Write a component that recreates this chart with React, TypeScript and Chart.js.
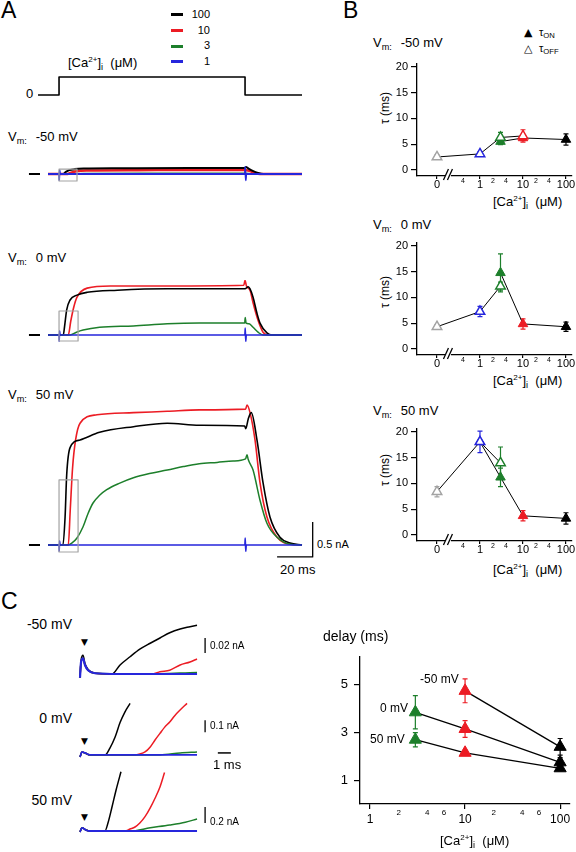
import React, { useEffect, useRef } from "react";
import { Chart, registerables } from "chart.js";
Chart.register(...registerables);

const FONT = "'Liberation Sans', Arial, Helvetica, sans-serif";
Chart.defaults.font.family = FONT;
Chart.defaults.color = "#000";

const BLACK = "#000000";
const RED = "#ec1c24";
const GREEN = "#1d7f2b";
const BLUE = "#2626dc";
const GRAY = "#a3a3a3";

type Pt = [number, number];

// ---------------- Panel A (time in ms, current in nA) ----------------
const caStep: Pt[] = [[-5.6, 0], [6.2, 0], [6.2, 1], [110.7, 1], [110.7, 0], [142.7, 0]];
const baselineMarkA: Pt[] = [[-10.7, 0], [-4.5, 0]];

const blueA: Pt[] = [[0, 0], [6.2, 0], [6.3, -0.09], [6.5, 0.06], [6.8, 0], [110.6, 0], [110.8, 0.1], [111.1, -0.09], [111.4, 0], [142.7, 0]];

const blackA_m50: Pt[] = [[0, 0], [8.4, 0], [10, 0.03], [12, 0.055], [15, 0.07], [20, 0.078], [40, 0.082], [80, 0.085], [110.6, 0.085], [111.2, 0.1], [112.5, 0.08], [115, 0.045], [118, 0.015], [121, 0], [142.7, 0]];
const redA_m50: Pt[] = [[0, 0], [11, 0], [13, 0.02], [16, 0.04], [22, 0.05], [50, 0.055], [110.6, 0.058], [112.5, 0.05], [115, 0.025], [118, 0.005], [120, 0], [142.7, 0]];
const greenA_m50: Pt[] = [[0, 0], [12, 0], [20, 0.006], [60, 0.01], [110.6, 0.012], [114, 0.004], [117, 0], [142.7, 0]];

const blackA_0: Pt[] = [[0, 0], [8.6, 0], [9.3, 0.12], [10.5, 0.36], [12.4, 0.5], [16.3, 0.57], [22, 0.61], [39, 0.64], [67, 0.66], [110.7, 0.66], [112.5, 0.69], [113.5, 0.66], [115.2, 0.54], [117.4, 0.31], [119.1, 0.17], [123, 0.03], [126, 0], [142.7, 0]];
const redA_0: Pt[] = [[0, 0], [11.4, 0], [12.8, 0.2], [14.5, 0.4], [16.3, 0.54], [22, 0.67], [35, 0.7], [67, 0.7], [110, 0.71], [110.7, 0.78], [111.5, 0.7], [113.5, 0.64], [115.2, 0.46], [118, 0.21], [120.8, 0.04], [124, 0], [142.7, 0]];
const greenA_0: Pt[] = [[0, 0], [12.4, 0], [16, 0.04], [19.7, 0.07], [29, 0.11], [48, 0.13], [67, 0.16], [85, 0.17], [110.5, 0.17], [110.8, 0.25], [111.3, 0.17], [113, 0.16], [115.2, 0.11], [118, 0.04], [120.8, 0], [142.7, 0]];

const blackA_50: Pt[] = [[0, 0], [8.4, 0], [9.6, 0.4], [10.5, 1.0], [12.4, 1.39], [18, 1.5], [29, 1.61], [48, 1.69], [67, 1.74], [85, 1.71], [110.5, 1.7], [111.1, 1.66], [112.5, 1.8], [114.2, 1.89], [117.4, 1.5], [120.8, 0.89], [124.7, 0.4], [130.3, 0.11], [136, 0.03], [142.7, 0]];
const redA_50: Pt[] = [[0, 0], [11.4, 0], [12.5, 0.5], [13.8, 1.1], [15.5, 1.5], [18, 1.74], [27.5, 1.86], [48, 1.89], [67, 1.91], [85, 1.93], [111, 1.94], [111.8, 2.0], [113.5, 1.89], [116.3, 1.5], [119.1, 0.89], [123, 0.4], [128.7, 0.11], [136, 0.01], [142.7, 0]];
const greenA_50: Pt[] = [[0, 0], [11.2, 0], [13.5, 0.03], [16.3, 0.1], [19.7, 0.26], [22.5, 0.45], [25.3, 0.6], [29, 0.71], [33, 0.79], [40, 0.88], [48, 0.96], [57, 1.02], [67, 1.07], [76, 1.12], [85, 1.16], [95, 1.18], [104, 1.2], [111, 1.23], [111.8, 1.29], [112.5, 1.22], [115.2, 1.07], [119.1, 0.64], [123, 0.31], [128.7, 0.11], [136, 0.01], [142.7, 0]];

// zoom windows shown in C: [t0, t1, i0, i1]
const boxA_m50 = [6.2, 16.3, -0.1, 0.071];
const boxA_0 = [6.2, 16.9, -0.086, 0.343];
const boxA_50 = [6.2, 16.9, -0.1, 0.929];
// scale bar: 20 ms, 0.5 nA
const scaleBarA = { t0: 128.7, i0: -0.17, dt: 20, di: 0.5 };

// ---------------- Panel B (tau, ms) ----------------
const ZERO_POS = 0.1;
const bTickValues = [0.1, 0.4, 1, 2, 4, 10, 20, 40, 100];
const bTickLabels = ["0", "4", "1", "2", "4", "10", "2", "4", "100"];
const bMajor = [0.1, 1, 10, 100];
const bTauTicks = [0, 5, 10, 15, 20];

const tauOffConc_m50 = [0, 1, 3, 10];
const tauOff_m50 = [2.5, 3.1, 6.3, 6.6];
const tauOffErr_m50 = [0.4, 0.4, 1.0, 1.2];
const tauOnConc_m50 = [3, 10, 100];
const tauOn_m50 = [5.5, 6.2, 5.9];
const tauOnErr_m50 = [0.6, 0.5, 1.1];

const tauOffConc_0 = [0, 1, 3];
const tauOff_0 = [4.3, 7.25, 12.2];
const tauOffErr_0 = [0.4, 1.0, 0.8];
const tauOnConc_0 = [3, 10, 100];
const tauOn_0 = [14.8, 4.85, 4.3];
const tauOnErr_0 = [3.7, 1.0, 0.9];

const tauOffConc_50 = [0, 1, 3];
const tauOff_50 = [8.4, 18.1, 14.0];
const tauOffErr_50 = [1.0, 2.1, 3.1];
const tauOnConc_50 = [1, 3, 10, 100];
const tauOn_50 = [18.1, 11.2, 3.7, 3.2];
const tauOnErr_50 = [0, 1.8, 1.0, 1.1];

// ---------------- Panel C traces (time in ms, current in nA) ----------------
const blackC_m50: Pt[] = [[0, -0.005], [0.08, 0.018], [0.23, 0.025], [0.38, 0.014], [0.62, 0.006], [1.15, 0.001], [2.46, 0], [3.08, 0.012], [3.85, 0.023], [4.6, 0.033], [5.4, 0.041], [6.15, 0.048], [6.9, 0.055], [7.7, 0.06], [8.46, 0.063], [9, 0.065]];
const redC_m50: Pt[] = [[0, -0.005], [0.08, 0.016], [0.23, 0.021], [0.38, 0.012], [0.62, 0.005], [1.15, 0.001], [2.5, 0], [5.6, 0], [6.15, 0.003], [6.9, 0.005], [7.7, 0.012], [8.46, 0.016], [9, 0.02]];
const greenC_m50: Pt[] = [[0, -0.005], [0.08, 0.016], [0.23, 0.021], [0.38, 0.012], [0.62, 0.005], [1.15, 0.001], [5, 0], [9, 0.002]];
const blueC_m50: Pt[] = [[0, -0.005], [0.08, 0.016], [0.23, 0.021], [0.38, 0.012], [0.62, 0.005], [1.15, 0.001], [3, 0], [6, 0], [9, 0]];

const blackC_0: Pt[] = [[0, -0.017], [0.15, 0.025], [0.38, 0.017], [0.77, 0], [1.92, 0], [2.3, 0.058], [2.7, 0.15], [3.08, 0.27], [3.46, 0.36], [3.85, 0.43]];
const redC_0: Pt[] = [[0, -0.017], [0.15, 0.025], [0.38, 0.017], [0.77, 0], [4.2, 0], [4.6, 0.008], [5.0, 0.025], [5.4, 0.067], [5.77, 0.125], [6.15, 0.18], [6.5, 0.23], [6.9, 0.275], [7.3, 0.33], [7.7, 0.375], [8.23, 0.43]];
const greenC_0: Pt[] = [[0, -0.017], [0.15, 0.025], [0.38, 0.017], [0.77, 0], [6.15, 0], [7.7, 0.017], [9, 0.025]];
const blueC_0: Pt[] = [[0, -0.017], [0.15, 0.025], [0.38, 0.017], [0.77, 0], [9, 0]];

const blackC_50: Pt[] = [[0, -0.0125], [0.15, 0.04], [0.46, 0.012], [0.77, 0], [1.92, 0], [2.15, 0.1], [2.46, 0.3], [2.77, 0.51], [3.15, 0.74]];
const redC_50: Pt[] = [[0, -0.0125], [0.15, 0.04], [0.46, 0.012], [0.77, 0], [3.46, 0], [3.85, 0.025], [4.23, 0.05], [4.6, 0.1], [5.0, 0.18], [5.4, 0.29], [5.77, 0.41], [6.15, 0.55], [6.5, 0.73]];
const greenC_50: Pt[] = [[0, -0.0125], [0.15, 0.04], [0.46, 0.012], [0.77, 0], [3.85, 0], [5.4, 0.04], [6.9, 0.075], [8.1, 0.11], [9, 0.15]];
const blueC_50: Pt[] = [[0, -0.0125], [0.15, 0.04], [0.46, 0.012], [0.77, 0], [9, 0]];

// scale bars in C: vertical at t, from i0 with height di; time bar 1 ms
const scaleC_m50 = { t: 9.62, i0: 0.028, di: 0.02 };
const scaleC_0 = { t: 9.62, i0: 0.19, di: 0.1 };
const scaleC_50 = { t: 9.62, i0: 0.1, di: 0.2 };
const timeBarC = { t0: 10.6, dt: 1, i: 0.017 };

// ---------------- Panel C right (delay, ms) ----------------
const cTickValues = [1, 2, 4, 6, 10, 20, 40, 60, 100];
const cTickLabels = ["1", "2", "4", "6", "10", "2", "4", "6", "100"];
const cMajor = [1, 10, 100];
const delayTicks = [1, 3, 5];

const delayConc_m50 = [10, 100];
const delay_m50 = [4.75, 2.4];
const delayErr_m50 = [0.5, 0.35];
const delayConc_0 = [3, 10, 100];
const delay_0 = [3.85, 3.15, 1.75];
const delayErr_0 = [0.7, 0.35, 0.2];
const delayConc_50 = [3, 10, 100];
const delay_50 = [2.7, 2.15, 1.5];
const delayErr_50 = [0.3, 0.1, 0.1];

// ---------------- helpers ----------------
const colorFor = (c: number) => (c === 0 ? GRAY : c === 1 ? BLUE : c === 3 ? GREEN : c === 10 ? RED : BLACK);
const toXY = (arr: Pt[]) => arr.map(([x, y]) => ({ x, y }));

function lineDs(arr: Pt[], color: string, width = 1.5, smooth = false): any {
  const ds: any = {
    data: toXY(arr),
    borderColor: color,
    borderWidth: width,
    pointRadius: 0,
    tension: 0,
    fill: false,
    clip: false,
    borderJoinStyle: "round",
  };
  if (smooth) ds.cubicInterpolationMode = "monotone";
  return ds;
}
const traceDs = (arr: Pt[], color: string, width = 1.5) => lineDs(arr, color, width, true);

const boxPts = (b: number[]): Pt[] => [[b[0], b[2]], [b[1], b[2]], [b[1], b[3]], [b[0], b[3]], [b[0], b[2]]];

function traceConfig(datasets: any[], xr: number[], yr: number[]): any {
  return {
    type: "line",
    data: { datasets },
    options: {
      animation: false,
      responsive: false,
      devicePixelRatio: 1,
      events: [],
      layout: { padding: 0 },
      plugins: { legend: { display: false }, tooltip: { enabled: false } },
      scales: {
        x: { type: "linear", min: xr[0], max: xr[1], display: false },
        y: { type: "linear", min: yr[0], max: yr[1], display: false },
      },
    },
  };
}

const errorBarPlugin: any = {
  id: "errbars",
  beforeDatasetsDraw(chart: any) {
    const ctx = chart.ctx;
    const ys = chart.scales.y;
    chart.data.datasets.forEach((ds: any, i: number) => {
      if (!ds.err) return;
      const meta = chart.getDatasetMeta(i);
      meta.data.forEach((pt: any, j: number) => {
        const e = ds.err[j];
        if (!e) return;
        const v = ds.data[j].y;
        const yT = ys.getPixelForValue(v + e);
        const yB = ys.getPixelForValue(v - e);
        ctx.save();
        ctx.strokeStyle = ds.errColor[j];
        ctx.lineWidth = 1.2;
        ctx.beginPath();
        ctx.moveTo(pt.x, yT);
        ctx.lineTo(pt.x, yB);
        ctx.moveTo(pt.x - 2.5, yT);
        ctx.lineTo(pt.x + 2.5, yT);
        ctx.moveTo(pt.x - 2.5, yB);
        ctx.lineTo(pt.x + 2.5, yB);
        ctx.stroke();
        ctx.restore();
      });
    });
  },
};

function makeBreakPlugin(at: number): any {
  return {
    id: "axisBreak",
    afterDraw(chart: any) {
      const ctx = chart.ctx;
      const x = chart.scales.x.getPixelForValue(at);
      const y = chart.chartArea.bottom;
      ctx.save();
      ctx.fillStyle = "#fff";
      ctx.fillRect(x - 3, y - 2, 6, 4);
      ctx.strokeStyle = "#000";
      ctx.lineWidth = 1.3;
      for (const dx of [-2, 2]) {
        ctx.beginPath();
        ctx.moveTo(x + dx - 2.5, y + 4);
        ctx.lineTo(x + dx + 2.5, y - 7);
        ctx.stroke();
      }
      ctx.restore();
    },
  };
}

function markerDs(conc: number[], vals: number[], err: number[], open: boolean, radius: number, posOf: (c: number) => number): any {
  const cols = conc.map(colorFor);
  return {
    data: conc.map((c, i) => ({ x: posOf(c), y: vals[i] })),
    err,
    errColor: cols,
    borderColor: BLACK,
    borderWidth: 1,
    tension: 0,
    fill: false,
    clip: false,
    pointStyle: "triangle",
    pointRadius: radius,
    pointBorderWidth: open ? 1.5 : 1,
    pointBorderColor: cols,
    pointBackgroundColor: open ? "#ffffff" : cols,
  };
}

function tauConfig(offC: number[], off: number[], offE: number[], onC: number[], on: number[], onE: number[]): any {
  const pos = (c: number) => (c === 0 ? ZERO_POS : c);
  return {
    type: "line",
    data: {
      datasets: [markerDs(offC, off, offE, true, 5.5, pos), markerDs(onC, on, onE, false, 5.5, pos)],
    },
    plugins: [errorBarPlugin, makeBreakPlugin(0.18)],
    options: {
      animation: false,
      responsive: false,
      devicePixelRatio: 1,
      events: [],
      layout: { padding: { top: 10, right: 10, left: 0, bottom: 0 } },
      plugins: { legend: { display: false }, tooltip: { enabled: false } },
      scales: {
        x: {
          type: "logarithmic",
          min: 0.0343,
          max: 138,
          afterBuildTicks: (s: any) => {
            s.ticks = bTickValues.map((v) => ({ value: v }));
          },
          afterFit: (s: any) => {
            s.height = 16;
          },
          ticks: {
            autoSkip: false,
            maxRotation: 0,
            minRotation: 0,
            padding: 0,
            color: "#000",
            callback: (v: any) => bTickLabels[bTickValues.indexOf(Number(v))],
            font: (ctx: any) =>
              bMajor.includes(ctx.tick && ctx.tick.value)
                ? { family: FONT, size: 11, lineHeight: 1 }
                : { family: FONT, size: 7, lineHeight: 4 / 7 },
          },
          grid: {
            drawOnChartArea: false,
            drawTicks: true,
            tickLength: 3,
            lineWidth: 1.2,
            tickColor: (ctx: any) => (bMajor.includes(ctx.tick && ctx.tick.value) ? "#000" : "rgba(0,0,0,0)"),
          },
          border: { display: true, color: "#000", width: 1.3 },
        },
        y: {
          type: "linear",
          min: -1.2,
          max: 20.6,
          afterBuildTicks: (s: any) => {
            s.ticks = bTauTicks.map((v) => ({ value: v }));
          },
          afterFit: (s: any) => {
            s.width = 25;
          },
          ticks: { padding: 3, color: "#000", font: { family: FONT, size: 11 } },
          grid: { drawOnChartArea: false, drawTicks: true, tickLength: 6, lineWidth: 1.2, tickColor: "#000" },
          border: { display: true, color: "#000", width: 1.3 },
        },
      },
    },
  };
}

function delayConfig(): any {
  const pos = (c: number) => c;
  return {
    type: "line",
    data: {
      datasets: [
        markerDs(delayConc_m50, delay_m50, delayErr_m50, false, 7, pos),
        markerDs(delayConc_0, delay_0, delayErr_0, false, 7, pos),
        markerDs(delayConc_50, delay_50, delayErr_50, false, 7, pos),
      ].map((d) => ({ ...d, borderWidth: 1.3 })),
    },
    plugins: [errorBarPlugin],
    options: {
      animation: false,
      responsive: false,
      devicePixelRatio: 1,
      events: [],
      layout: { padding: { top: 10, right: 12, left: 0, bottom: 0 } },
      plugins: { legend: { display: false }, tooltip: { enabled: false } },
      scales: {
        x: {
          type: "logarithmic",
          min: 0.785,
          max: 127,
          afterBuildTicks: (s: any) => {
            s.ticks = cTickValues.map((v) => ({ value: v }));
          },
          afterFit: (s: any) => {
            s.height = 22;
          },
          ticks: {
            autoSkip: false,
            maxRotation: 0,
            minRotation: 0,
            padding: 3,
            color: "#000",
            callback: (v: any) => cTickLabels[cTickValues.indexOf(Number(v))],
            font: (ctx: any) =>
              cMajor.includes(ctx.tick && ctx.tick.value)
                ? { family: FONT, size: 12, lineHeight: 16 / 12 }
                : { family: FONT, size: 8, lineHeight: 0.125 },
          },
          grid: {
            drawOnChartArea: false,
            drawTicks: true,
            tickLength: 5,
            lineWidth: 1.2,
            tickColor: (ctx: any) => (cMajor.includes(ctx.tick && ctx.tick.value) ? "#000" : "rgba(0,0,0,0)"),
          },
          border: { display: true, color: "#000", width: 1.3 },
        },
        y: {
          type: "linear",
          min: 0,
          max: 6.18,
          afterBuildTicks: (s: any) => {
            s.ticks = delayTicks.map((v) => ({ value: v }));
          },
          afterFit: (s: any) => {
            s.width = 30;
          },
          ticks: { padding: 6, color: "#000", font: { family: FONT, size: 13 } },
          grid: { drawOnChartArea: false, drawTicks: true, tickLength: 6, lineWidth: 1.2, tickColor: "#000" },
          border: { display: true, color: "#000", width: 1.3 },
        },
      },
    },
  };
}

// A chart x-range (ms) shared by all A charts
const A_X = [-12.92, 150];
const C_X = [-0.385, 11.92];

function ChartBox({ left, top, width, height, build }: any) {
  const ref = useRef<HTMLCanvasElement | null>(null);
  useEffect(() => {
    const chart = new Chart(ref.current as HTMLCanvasElement, build());
    return () => chart.destroy();
  }, []);
  return (
    <div style={{ position: "absolute", left, top, width, height }}>
      <canvas ref={ref} width={width} height={height} style={{ display: "block", width, height }} />
    </div>
  );
}

function Txt({ x, y, size = 13, anchor = "start", family = FONT, children }: any) {
  const top = y - size * 0.8465;
  const tx = anchor === "end" ? "translateX(-100%)" : anchor === "middle" ? "translateX(-50%)" : "none";
  return (
    <div
      style={{
        position: "absolute",
        left: x,
        top,
        fontFamily: family,
        fontSize: size,
        lineHeight: 1,
        whiteSpace: "nowrap",
        color: "#000",
        transform: tx,
      }}
    >
      {children}
    </div>
  );
}

function VTxt({ cx, cy, size = 12, children }: any) {
  return (
    <div
      style={{
        position: "absolute",
        left: cx,
        top: cy,
        fontFamily: FONT,
        fontSize: size,
        lineHeight: 1,
        whiteSpace: "nowrap",
        transform: "translate(-50%, -50%) rotate(-90deg)",
      }}
    >
      {children}
    </div>
  );
}

const Sub = ({ children }: any) => (
  <span style={{ fontSize: "0.7em", verticalAlign: "-0.3em", lineHeight: 0 }}>{children}</span>
);
const Sup = ({ children }: any) => (
  <span style={{ fontSize: "0.62em", verticalAlign: "0.6em", lineHeight: 0 }}>{children}</span>
);
const CaLabel = () => (
  <>
    [Ca<Sup>2+</Sup>]<Sub>i</Sub>&nbsp;&nbsp;(μM)
  </>
);
const Vm = ({ v }: any) => (
  <>
    V<Sub>m:</Sub>
    <span style={{ display: "inline-block", width: 9 }} />
    {v} mV
  </>
);

const LegendBar = ({ x, y, color }: any) => (
  <div style={{ position: "absolute", left: x, top: y - 1.5, width: 12, height: 3, background: color }} />
);

export default function App() {
  return (
    <div style={{ position: "absolute", left: 0, top: 0, width: 576, height: 852, overflow: "hidden", background: "#fff" }}>
      {/* ---------- Panel A ---------- */}
      <Txt x={1} y={18} size={23}>A</Txt>
      <LegendBar x={171} y={14.7} color={BLACK} />
      <LegendBar x={171} y={30} color={RED} />
      <LegendBar x={171} y={46} color={GREEN} />
      <LegendBar x={171} y={61} color={BLUE} />
      <Txt x={210} y={18.5} size={11} anchor="end">100</Txt>
      <Txt x={210} y={34} size={11} anchor="end">10</Txt>
      <Txt x={210} y={49.5} size={11} anchor="end">3</Txt>
      <Txt x={210} y={65} size={11} anchor="end">1</Txt>
      <Txt x={68} y={67} size={13}><CaLabel /></Txt>
      <Txt x={26} y={98.5} size={13}>0</Txt>

      <ChartBox left={25} top={70} width={290} height={30}
        build={() => traceConfig([lineDs(caStep, BLACK, 1.6)], A_X, [-0.278, 1.389])} />

      <Txt x={8} y={141} size={13}><Vm v="-50" /></Txt>
      <ChartBox left={25} top={160} width={290} height={25}
        build={() => traceConfig([
          lineDs(boxPts(boxA_m50), GRAY, 1.2),
          lineDs(baselineMarkA, BLACK, 2),
          traceDs(blueA, BLUE, 1.8),
          traceDs(greenA_m50, GREEN, 1.5),
          traceDs(blackA_m50, BLACK, 2),
          traceDs(redA_m50, RED, 2.5),
        ], A_X, [-0.157, 0.2])} />

      <Txt x={8} y={262} size={13}><Vm v="0" /></Txt>
      <ChartBox left={25} top={280} width={290} height={65}
        build={() => traceConfig([
          lineDs(boxPts(boxA_0), GRAY, 1.2),
          lineDs(baselineMarkA, BLACK, 2),
          traceDs(blueA, BLUE, 1.6),
          traceDs(greenA_0, GREEN, 1.5),
          traceDs(blackA_0, BLACK, 1.6),
          traceDs(redA_0, RED, 1.6),
        ], A_X, [-0.143, 0.786])} />

      <Txt x={8} y={399} size={13}><Vm v="50" /></Txt>
      <ChartBox left={25} top={400} width={290} height={160}
        build={() => traceConfig([
          lineDs(boxPts(boxA_50), GRAY, 1.2),
          lineDs([[scaleBarA.t0, scaleBarA.i0], [scaleBarA.t0 + scaleBarA.dt, scaleBarA.i0], [scaleBarA.t0 + scaleBarA.dt, scaleBarA.i0 + scaleBarA.di]], BLACK, 1.3),
          lineDs(baselineMarkA, BLACK, 2),
          traceDs(blueA, BLUE, 1.6),
          traceDs(greenA_50, GREEN, 1.5),
          traceDs(blackA_50, BLACK, 1.6),
          traceDs(redA_50, RED, 1.6),
        ], A_X, [-0.214, 2.071])} />
      <Txt x={317} y={548} size={11}>0.5 nA</Txt>
      <Txt x={280} y={574} size={13}>20 ms</Txt>

      {/* ---------- Panel B ---------- */}
      <Txt x={343} y={18} size={23}>B</Txt>
      <div style={{ position: "absolute", left: 524, top: 27, fontFamily: "'DejaVu Sans'", fontSize: 11, lineHeight: "12px" }}>▲</div>
      <div style={{ position: "absolute", left: 524, top: 43, fontFamily: "'DejaVu Sans'", fontSize: 11, lineHeight: "12px", fontWeight: "bold" }}>△</div>
      <Txt x={539} y={36.5} size={11}>τ<Sub>ON</Sub></Txt>
      <Txt x={539} y={52.5} size={11}>τ<Sub>OFF</Sub></Txt>

      <Txt x={373} y={47} size={13}><Vm v="-50" /></Txt>
      <VTxt cx={385} cy={108}>τ (ms)</VTxt>
      <ChartBox left={392} top={54} width={190} height={138}
        build={() => tauConfig(tauOffConc_m50, tauOff_m50, tauOffErr_m50, tauOnConc_m50, tauOn_m50, tauOnErr_m50)} />
      <Txt x={493} y={206} size={13}><CaLabel /></Txt>

      <Txt x={373} y={229} size={13}><Vm v="0" /></Txt>
      <VTxt cx={385} cy={292}>τ (ms)</VTxt>
      <ChartBox left={392} top={233} width={190} height={138}
        build={() => tauConfig(tauOffConc_0, tauOff_0, tauOffErr_0, tauOnConc_0, tauOn_0, tauOnErr_0)} />
      <Txt x={493} y={385} size={13}><CaLabel /></Txt>

      <Txt x={373} y={415} size={13}><Vm v="50" /></Txt>
      <VTxt cx={385} cy={470}>τ (ms)</VTxt>
      <ChartBox left={392} top={419} width={190} height={138}
        build={() => tauConfig(tauOffConc_50, tauOff_50, tauOffErr_50, tauOnConc_50, tauOn_50, tauOnErr_50)} />
      <Txt x={493} y={574} size={13}><CaLabel /></Txt>

      {/* ---------- Panel C ---------- */}
      <Txt x={1} y={609} size={23}>C</Txt>

      <Txt x={72} y={629} size={14} anchor="end">-50 mV</Txt>
      <div style={{ position: "absolute", left: 81, top: 637, fontFamily: "'DejaVu Sans'", fontSize: 9, lineHeight: "10px" }}>▼</div>
      <ChartBox left={75} top={620} width={160} height={65}
        build={() => traceConfig([
          lineDs([[scaleC_m50.t, scaleC_m50.i0], [scaleC_m50.t, scaleC_m50.i0 + scaleC_m50.di]], BLACK, 1.3),
          traceDs(blueC_m50, BLUE, 2.2),
          traceDs(greenC_m50, GREEN, 1.5),
          traceDs(redC_m50, RED, 1.5),
          traceDs(blackC_m50, BLACK, 1.5),
        ], C_X, [-0.0147, 0.072])} />
      <Txt x={210} y={649} size={10}>0.02 nA</Txt>

      <Txt x={72} y={723} size={14} anchor="end">0 mV</Txt>
      <div style={{ position: "absolute", left: 81, top: 736, fontFamily: "'DejaVu Sans'", fontSize: 9, lineHeight: "10px" }}>▼</div>
      <ChartBox left={75} top={698} width={160} height={62}
        build={() => traceConfig([
          lineDs([[scaleC_0.t, scaleC_0.i0], [scaleC_0.t, scaleC_0.i0 + scaleC_0.di]], BLACK, 1.3),
          lineDs([[timeBarC.t0, timeBarC.i], [timeBarC.t0 + timeBarC.dt, timeBarC.i]], BLACK, 1.5),
          traceDs(blueC_0, BLUE, 1.8),
          traceDs(greenC_0, GREEN, 1.5),
          traceDs(redC_0, RED, 1.5),
          traceDs(blackC_0, BLACK, 1.5),
        ], C_X, [-0.042, 0.475])} />
      <Txt x={210} y={729} size={10}>0.1 nA</Txt>
      <Txt x={213} y={769} size={13}>1 ms</Txt>

      <Txt x={72} y={805} size={14} anchor="end">50 mV</Txt>
      <div style={{ position: "absolute", left: 81, top: 812, fontFamily: "'DejaVu Sans'", fontSize: 9, lineHeight: "10px" }}>▼</div>
      <ChartBox left={75} top={765} width={160} height={71}
        build={() => traceConfig([
          lineDs([[scaleC_50.t, scaleC_50.i0], [scaleC_50.t, scaleC_50.i0 + scaleC_50.di]], BLACK, 1.3),
          traceDs(blueC_50, BLUE, 1.8),
          traceDs(greenC_50, GREEN, 1.5),
          traceDs(redC_50, RED, 1.5),
          traceDs(blackC_50, BLACK, 1.5),
        ], C_X, [-0.0625, 0.825])} />
      <Txt x={210} y={825} size={10}>0.2 nA</Txt>

      {/* C right */}
      <Txt x={323} y={641} size={14}>delay (ms)</Txt>
      <ChartBox left={330} top={643} width={252} height={183} build={delayConfig} />
      <Txt x={420} y={683} size={12}>-50 mV</Txt>
      <Txt x={380} y={712} size={12}>0 mV</Txt>
      <Txt x={370} y={743} size={12}>50 mV</Txt>
      <Txt x={440} y={845} size={13}><CaLabel /></Txt>
    </div>
  );
}
